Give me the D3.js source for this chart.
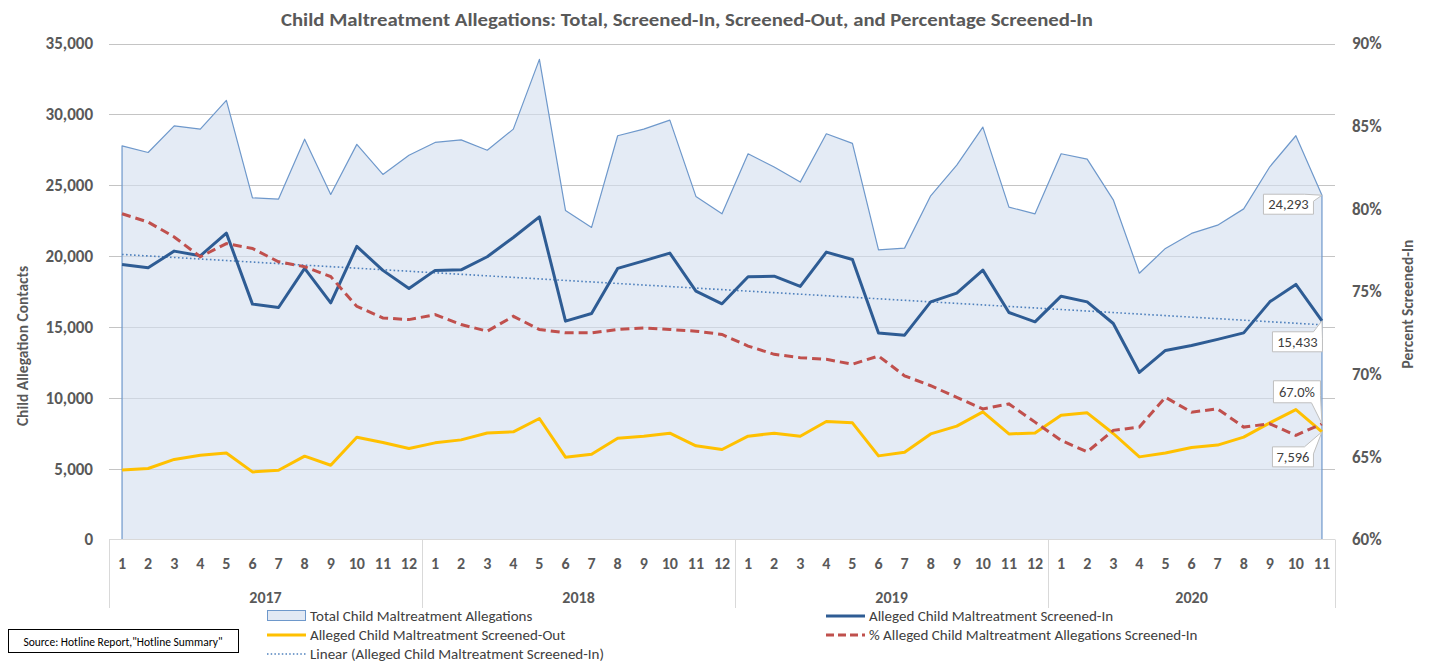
<!DOCTYPE html>
<html lang="en">
<head>
  <meta charset="UTF-8">
  <title>Child Maltreatment Allegations</title>
  <script src="https://d3js.org/d3.v7.min.js"></script>
  <style>
    body {
      margin: 0;
      overflow: hidden;
      background: white;
    }
    text {
      font-family: Carlito, Calibri, "Liberation Sans", sans-serif;
    }
  </style>
</head>
<body>
  <script>
    const width = 1429;
    const height = 663;

    // data
    const years = ["2017", "2018", "2019", "2020"];
    const monthsPerYear = [12, 12, 12, 11];

    const total = [27780, 27310, 29190, 28960, 30980, 24110, 24020, 28250, 24350, 27880, 25760, 27120,
                   28020, 28200, 27470, 28960, 33880, 23220, 22020, 28490, 28960, 29590, 24210, 22980,
                   27220, 26280, 25220, 28630, 27950, 20440, 20560, 24250, 26420, 29100, 23450, 22980,
                   27220, 26840, 23970, 18790, 20540, 21600, 22180, 23330, 26300, 28490, 24293];
    const screenedIn = [19410, 19170, 20350, 20020, 21620, 16610, 16370, 19130, 16700, 20680, 18990, 17710,
                        18990, 19030, 19950, 21310, 22770, 15410, 15950, 19130, 19660, 20210, 17520, 16630,
                        18540, 18580, 17860, 20280, 19760, 14580, 14420, 16770, 17380, 19010, 16020, 15360,
                        17170, 16770, 15240, 11790, 13340, 13690, 14120, 14580, 16770, 18000, 15433];
    const screenedOut = [4910, 5010, 5650, 5950, 6110, 4770, 4890, 5880, 5240, 7220, 6850, 6420,
                         6820, 7030, 7520, 7600, 8540, 5810, 6020, 7150, 7290, 7500, 6610, 6350,
                         7290, 7500, 7290, 8330, 8230, 5900, 6160, 7450, 8000, 9010, 7450, 7520,
                         8770, 8940, 7480, 5830, 6110, 6490, 6660, 7220, 8230, 9170, 7596];
    const pctIn = [79.7, 79.2, 78.3, 77.1, 77.9, 77.6, 76.8, 76.5, 75.9, 74.1, 73.4, 73.3,
                   73.6, 73.0, 72.6, 73.5, 72.7, 72.5, 72.5, 72.7, 72.8, 72.7, 72.6, 72.4,
                   71.7, 71.2, 71.0, 70.9, 70.6, 71.1, 69.9, 69.3, 68.6, 67.9, 68.2, 67.1,
                   66.0, 65.3, 66.6, 66.8, 68.6, 67.7, 67.9, 66.8, 67.0, 66.3, 67.0];

    const leftTicks = [0, 5000, 10000, 15000, 20000, 25000, 30000, 35000];
    const rightTicks = [60, 65, 70, 75, 80, 85, 90];

    // categories: one per month
    const categories = [];
    years.forEach((yr, i) => {
      for (let m = 1; m <= monthsPerYear[i]; m++) categories.push({ key: yr + "-" + m, year: yr, month: m });
    });

    const plot = { left: 109, right: 1335, top: 43.5, bottom: 539.5 };
    const textColor = "#595959";

    const svg = d3.select("body")
      .append("svg")
      .attr("width", width)
      .attr("height", height)
      .style("background", "white");

    const x = d3.scaleBand()
      .domain(categories.map(d => d.key))
      .range([plot.left, plot.right])
      .padding(0);
    const cx = i => x(categories[i].key) + x.bandwidth() / 2;

    const y = d3.scaleLinear().domain([0, 35000]).range([plot.bottom, plot.top]);
    const y2 = d3.scaleLinear().domain([60, 90]).range([plot.bottom, plot.top]);

    // title
    svg.append("text")
      .attr("x", 687)
      .attr("y", 26)
      .attr("text-anchor", "middle")
      .attr("font-size", 17)
      .attr("font-weight", "bold")
      .attr("fill", textColor)
      .attr("textLength", 812)
      .attr("lengthAdjust", "spacingAndGlyphs")
      .text("Child Maltreatment Allegations: Total, Screened-In, Screened-Out, and Percentage Screened-In");

    // gridlines
    svg.append("g")
      .selectAll("line")
      .data(leftTicks.filter(d => d > 0))
      .enter()
      .append("line")
      .attr("x1", plot.left)
      .attr("x2", plot.right)
      .attr("y1", d => Math.round(y(d)) + 0.5)
      .attr("y2", d => Math.round(y(d)) + 0.5)
      .attr("stroke", "#c4c4c4")
      .attr("stroke-width", 1);

    // left axis
    const leftAxis = svg.append("g")
      .attr("transform", `translate(${plot.left},0)`)
      .call(d3.axisLeft(y).tickValues(leftTicks).tickSize(0).tickPadding(16).tickFormat(d3.format(",")));
    leftAxis.select(".domain").remove();
    leftAxis.selectAll("text")
      .attr("font-size", 17)
      .attr("font-weight", "bold")
      .attr("fill", textColor)
      .attr("font-family", "Carlito, Calibri, 'Liberation Sans', sans-serif");

    // right axis
    const rightAxis = svg.append("g")
      .attr("transform", `translate(${plot.right},0)`)
      .call(d3.axisRight(y2).tickValues(rightTicks).tickSize(0).tickPadding(17).tickFormat(d => d + "%"));
    rightAxis.select(".domain").remove();
    rightAxis.selectAll("text")
      .attr("font-size", 17)
      .attr("font-weight", "bold")
      .attr("fill", textColor)
      .attr("font-family", "Carlito, Calibri, 'Liberation Sans', sans-serif");

    // axis titles
    svg.append("text")
      .attr("transform", "translate(28,346) rotate(-90)")
      .attr("text-anchor", "middle")
      .attr("font-size", 15.5)
      .attr("font-weight", "bold")
      .attr("fill", textColor)
      .text("Child Allegation Contacts");
    svg.append("text")
      .attr("transform", "translate(1413,304) rotate(-90)")
      .attr("text-anchor", "middle")
      .attr("font-size", 15.5)
      .attr("font-weight", "bold")
      .attr("fill", textColor)
      .text("Percent Screened-In");

    // area: total allegations
    const area = d3.area()
      .x((d, i) => cx(i))
      .y0(y(0))
      .y1(d => y(d));
    svg.append("path")
      .datum(total)
      .attr("d", area)
      .attr("fill", "#d3dfef")
      .attr("fill-opacity", 0.62)
      .attr("stroke", "#6e98cb")
      .attr("stroke-width", 1.2)
      .attr("stroke-linejoin", "round");

    // x axis line and category separators
    svg.append("line")
      .attr("x1", plot.left).attr("x2", plot.right)
      .attr("y1", plot.bottom).attr("y2", plot.bottom)
      .attr("stroke", "#d9d9d9");

    let start = 0;
    const groups = years.map((yr, i) => {
      const g = { year: yr, first: start, last: start + monthsPerYear[i] - 1 };
      start += monthsPerYear[i];
      return g;
    });
    const sepX = [plot.left].concat(groups.map(g => x(categories[g.last].key) + x.bandwidth()));
    svg.append("g")
      .selectAll("line")
      .data(sepX)
      .enter()
      .append("line")
      .attr("x1", d => Math.round(d) + 0.5)
      .attr("x2", d => Math.round(d) + 0.5)
      .attr("y1", plot.bottom)
      .attr("y2", 608)
      .attr("stroke", "#d9d9d9");

    svg.append("g")
      .selectAll("text")
      .data(categories)
      .enter()
      .append("text")
      .attr("x", (d, i) => cx(i))
      .attr("y", 569)
      .attr("text-anchor", "middle")
      .attr("font-size", 16)
      .attr("font-weight", "bold")
      .attr("fill", textColor)
      .text(d => d.month);

    svg.append("g")
      .selectAll("text")
      .data(groups)
      .enter()
      .append("text")
      .attr("x", g => (x(categories[g.first].key) + x(categories[g.last].key) + x.bandwidth()) / 2)
      .attr("y", 603)
      .attr("text-anchor", "middle")
      .attr("font-size", 16)
      .attr("font-weight", "bold")
      .attr("fill", textColor)
      .text(g => g.year);

    // linear trend of screened-in
    const n = screenedIn.length;
    const xs = d3.range(1, n + 1);
    const mx = d3.mean(xs), my = d3.mean(screenedIn);
    const slope = d3.sum(xs, (v, i) => (v - mx) * (screenedIn[i] - my)) / d3.sum(xs, v => (v - mx) * (v - mx));
    const intercept = my - slope * mx;

    const line = d3.line().x((d, i) => cx(i)).y(d => y(d));
    const line2 = d3.line().x((d, i) => cx(i)).y(d => y2(d));

    svg.append("path")
      .datum(xs.map(v => intercept + slope * v))
      .attr("d", line)
      .attr("fill", "none")
      .attr("stroke", "#4f81bd")
      .attr("stroke-width", 1.6)
      .attr("stroke-dasharray", "1.6,2.4");

    svg.append("path")
      .datum(screenedOut)
      .attr("d", line)
      .attr("fill", "none")
      .attr("stroke", "#ffc000")
      .attr("stroke-width", 3)
      .attr("stroke-linejoin", "round");

    svg.append("path")
      .datum(screenedIn)
      .attr("d", line)
      .attr("fill", "none")
      .attr("stroke", "#2e5c94")
      .attr("stroke-width", 3)
      .attr("stroke-linejoin", "round");

    svg.append("path")
      .datum(pctIn)
      .attr("d", line2)
      .attr("fill", "none")
      .attr("stroke", "#c0504d")
      .attr("stroke-width", 3)
      .attr("stroke-dasharray", "9,5");

    // data labels on the last month
    const last = n - 1;
    const lx = cx(last);
    function callout(px, py, x0, y0, w, h, pointerTop, label) {
      const x1 = x0 + w, y1 = y0 + h;
      const d = pointerTop
        ? `M${x0},${y0}L${x1 - 9},${y0}L${px},${py}L${x1},${y0 + 7}L${x1},${y1}L${x0},${y1}Z`
        : `M${x0},${y0}L${x1},${y0}L${x1},${y1 - 7}L${px},${py}L${x1 - 9},${y1}L${x0},${y1}Z`;
      svg.append("path")
        .attr("d", d)
        .attr("fill", "white")
        .attr("stroke", "#bfbfbf")
        .attr("stroke-width", 1);
      svg.append("text")
        .attr("x", x0 + w / 2)
        .attr("y", y0 + h / 2 + 5)
        .attr("text-anchor", "middle")
        .attr("font-size", 14.5)
        .attr("fill", "#404040")
        .text(label);
    }
    callout(lx, y(total[last]), lx - 58.5, y(total[last]) - 1, 50, 20, true, d3.format(",")(total[last]));
    callout(lx, y(screenedIn[last]), lx - 49.5, y(screenedIn[last]) + 11, 50, 20, true, d3.format(",")(screenedIn[last]));
    callout(lx, y2(pctIn[last]), lx - 48.5, y2(pctIn[last]) - 43, 47, 22, false, pctIn[last].toFixed(1) + "%");
    callout(lx, y(screenedOut[last]), lx - 49.5, y(screenedOut[last]) + 15, 41, 20, true, d3.format(",")(screenedOut[last]));

    // legend
    const legend = svg.append("g");
    const legendItems = [
      { label: "Total Child Maltreatment Allegations", type: "area", x: 267, y: 616 },
      { label: "Alleged Child Maltreatment Screened-Out", type: "out", x: 267, y: 635 },
      { label: "Linear (Alleged Child Maltreatment Screened-In)", type: "trend", x: 267, y: 654 },
      { label: "Alleged Child Maltreatment Screened-In", type: "in", x: 826, y: 616 },
      { label: "% Alleged Child Maltreatment Allegations Screened-In", type: "pct", x: 826, y: 635 }
    ];
    legendItems.forEach(it => {
      if (it.type === "area") {
        legend.append("rect")
          .attr("x", it.x + 0.5).attr("y", it.y - 5.5)
          .attr("width", 38).attr("height", 10)
          .attr("fill", "#e2e9f4")
          .attr("stroke", "#6e98cb");
      } else {
        const st = {
          out: ["#ffc000", 3, null],
          in: ["#2e5c94", 3, null],
          trend: ["#4f81bd", 1.5, "1.5,2.2"],
          pct: ["#c0504d", 3, "8,4"]
        }[it.type];
        legend.append("line")
          .attr("x1", it.x).attr("x2", it.x + 39)
          .attr("y1", it.y).attr("y2", it.y)
          .attr("stroke", st[0])
          .attr("stroke-width", st[1])
          .attr("stroke-dasharray", st[2]);
      }
      legend.append("text")
        .attr("x", it.x + 43)
        .attr("y", it.y + 5)
        .attr("font-size", 15)
        .attr("fill", "#404040")
        .text(it.label);
    });

    // source box
    svg.append("rect")
      .attr("x", 8.5).attr("y", 629.5)
      .attr("width", 230).attr("height", 23)
      .attr("fill", "white")
      .attr("stroke", "#000")
      .attr("stroke-width", 1);
    svg.append("text")
      .attr("x", 123)
      .attr("y", 645.5)
      .attr("text-anchor", "middle")
      .attr("font-size", 11.5)
      .attr("fill", "#000")
      .text("Source: Hotline Report,\"Hotline Summary\"");
  </script>
</body>
</html>
